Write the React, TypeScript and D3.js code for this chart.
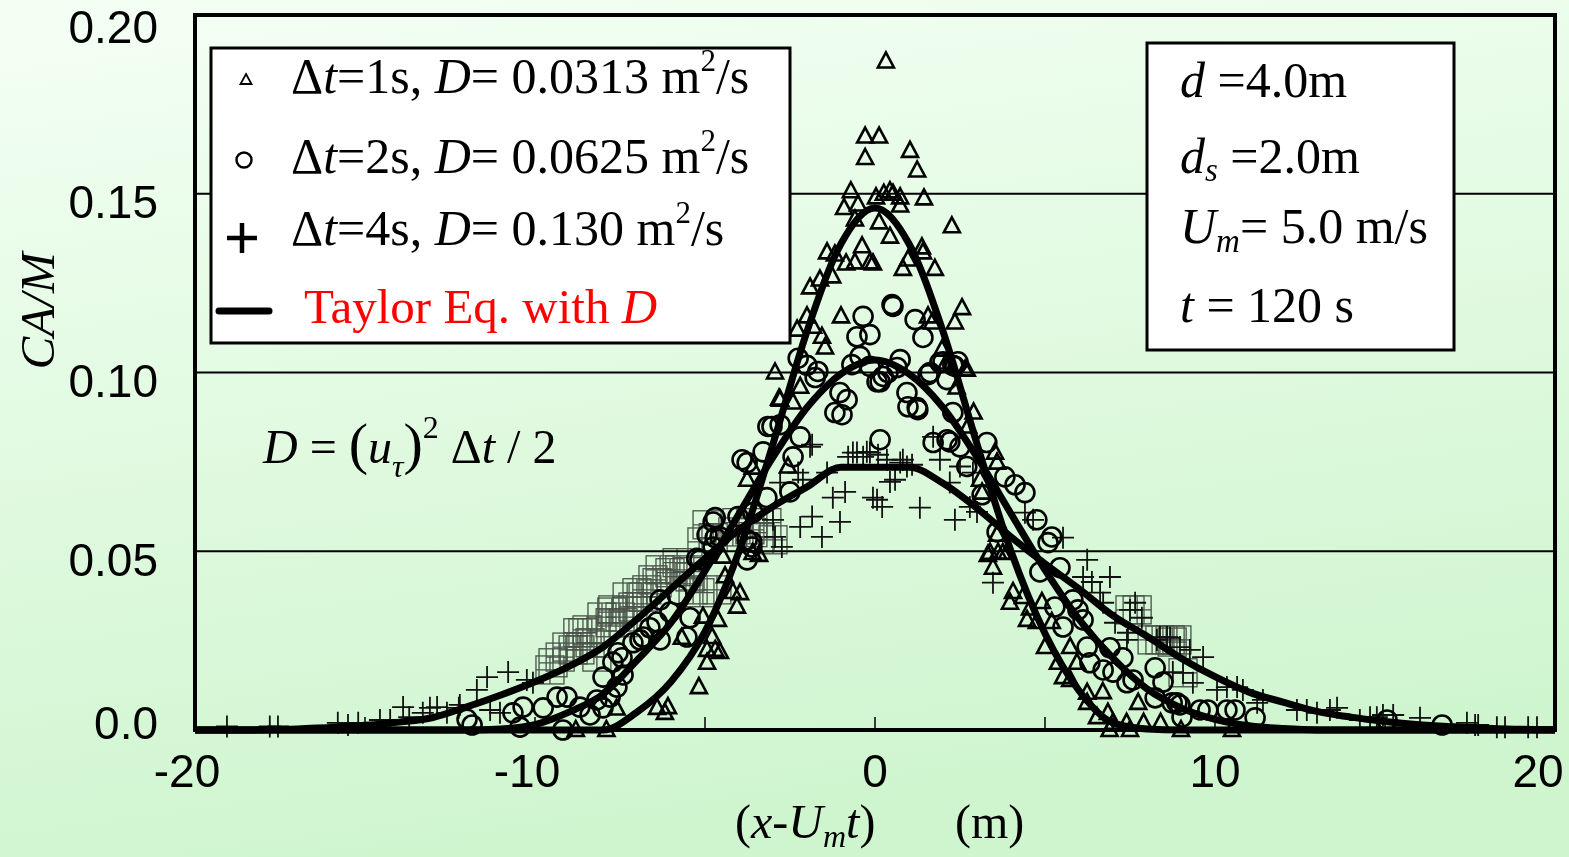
import * as d3 from 'd3'

// Taylor equation curves at 1 m steps
const taylorX = [-20, -19, -18, -17, -16, -15, -14, -13, -12, -11, -10, -9, -8, -7, -6, -5, -4, -3, -2, -1, 0,
  1, 2, 3, 4, 5, 6, 7, 8, 9, 10, 11, 12, 13, 14, 15, 16, 17, 18, 19, 20]
const taylor1s = [0, 0, 0, 0, 0, 0, 0, 0, 0, 0, 0, 0, 0, 0.005, 0.0135, 0.0275, 0.05, 0.08, 0.1115, 0.136, 0.146,
  0.136, 0.1115, 0.08, 0.05, 0.027, 0.011, 0.002, 0.0003, 0, 0, 0, 0, 0, 0, 0, 0, 0, 0, 0, 0]
const taylor2s = [0, 0, 0, 0, 0, 0, 0, 0, 0, 0.0003, 0.0015, 0.005, 0.01, 0.0195, 0.03, 0.0445, 0.0605, 0.0763, 0.0902, 0.0996, 0.1035,
  0.0996, 0.0902, 0.0763, 0.0605, 0.0448, 0.031, 0.0201, 0.0115, 0.0062, 0.003, 0.0012, 0.0004, 0, 0, 0, 0, 0, 0, 0, 0]
const taylor4s = [0, 0, 0.0001, 0.0003, 0.0007, 0.0013, 0.0022, 0.0035, 0.0065, 0.0098, 0.0135, 0.0178, 0.0232, 0.031, 0.0395, 0.048, 0.056, 0.0625, 0.068, 0.0735, 0.0735,
  0.0735, 0.069, 0.062, 0.054, 0.0465, 0.0395, 0.032, 0.0262, 0.0201, 0.0149, 0.0106, 0.0078, 0.0052, 0.0036, 0.0024, 0.0015, 0.0009, 0.0005, 0.0002, 0.0001]

// simulated points, dt = 1 s (triangles)
const points1s: [number, number][] = [
  [0.32, 0.187], [-0.29, 0.166], [0.12, 0.166], [-0.29, 0.16], [1.03, 0.162], [1.24, 0.1565], [-0.71, 0.1507], [0.03, 0.149],
  [0.26, 0.15], [0.44, 0.1507], [0.53, 0.15], [0.74, 0.149], [1.44, 0.1487], [-0.91, 0.146], [-0.5, 0.147], [0.74, 0.1467],
  [-0.59, 0.1428], [0.12, 0.142], [0.44, 0.138], [2.26, 0.1409], [-0.38, 0.1353], [-1.41, 0.1336], [-1.18, 0.133], [-0.85, 0.1305],
  [-0.59, 0.1308], [-0.15, 0.1308], [-0.06, 0.1305], [-1.26, 0.1269], [1.38, 0.135], [1.41, 0.1336], [0.97, 0.1316], [0.82, 0.129],
  [1.76, 0.129], [-1.91, 0.1238], [-1.62, 0.126], [-1.0, 0.1157], [-2.0, 0.1157], [-2.29, 0.112], [-1.82, 0.1128], [-1.56, 0.11],
  [-1.47, 0.107], [1.56, 0.1157], [1.68, 0.114], [2.56, 0.118], [2.35, 0.114], [1.97, 0.1064], [-2.94, 0.1], [2.65, 0.1008],
  [-2.2, 0.096], [-2.82, 0.0927], [-2.41, 0.0916], [-2.56, 0.0737], [-3.76, 0.07], [-3.6, 0.0734], [-2.79, 0.0924],
  [-4.47, 0.0485], [-3.41, 0.049], [-3.6, 0.0495], [-4.41, 0.043], [-4.18, 0.0386], [-3.97, 0.0383], [-4.06, 0.0345], [-5.06, 0.0317],
  [-4.62, 0.0308], [-5.68, 0.0258], [-4.79, 0.026], [-4.94, 0.0224], [-4.7, 0.0224], [-4.56, 0.0218], [-4.94, 0.0188], [-5.18, 0.012],
  [-6.41, 0.0062], [-6.09, 0.0064], [-6.18, 0.0048], [-7.6, 0.006],
  [2.1, 0.1028], [2.7, 0.1008], [2.4, 0.0958], [2.9, 0.0888], [2.74, 0.0849], [3.53, 0.0776], [3.59, 0.0748], [3.09, 0.07],
  [3.15, 0.0664], [3.59, 0.0546], [3.38, 0.0496], [3.62, 0.0496], [3.88, 0.0496], [3.32, 0.049], [3.76, 0.0495], [3.47, 0.0454],
  [4.06, 0.0386], [3.97, 0.0356], [4.35, 0.0372], [4.56, 0.034], [4.91, 0.0358], [4.47, 0.0308], [4.76, 0.0302], [5.2, 0.0302],
  [5.0, 0.0232], [5.74, 0.0232], [5.38, 0.0188], [5.94, 0.0188], [5.53, 0.0148], [5.74, 0.014], [6.24, 0.0104], [6.7, 0.0106],
  [6.24, 0.0076], [7.74, 0.0076], [6.53, 0.0036], [6.85, 0.0048], [7.0, 0.002], [7.4, 0.002], [7.9, 0.002], [8.4, 0.002],
  [-8.8, 0], [-7.9, 0], [6.9, 0], [7.5, 0], [9.0, 0], [10.5, 0],
]

// dt = 2 s (circles)
const points2s: [number, number][] = [
  [0.5, 0.119], [0.53, 0.1185], [-0.35, 0.1157], [-0.53, 0.11], [-0.15, 0.1106], [1.18, 0.1148], [1.41, 0.1098], [-2.26, 0.104],
  [-1.68, 0.1003], [-0.44, 0.1045], [-0.68, 0.1022], [0.74, 0.1036], [0.65, 0.1014], [2.0, 0.103], [2.29, 0.102],
  [-1.03, 0.0944], [-0.82, 0.0924], [-1.18, 0.0888], [-0.97, 0.0882], [-0.15, 0.1017], [0.15, 0.0974], [0.38, 0.1], [0.94, 0.0944],
  [1.24, 0.0902], [1.62, 0.1], [1.91, 0.1028], [2.29, 0.0888], [0.15, 0.0812], [1.71, 0.0804], [2.12, 0.0812], [-3.91, 0.0756],
  [-3.15, 0.0849], [-3.29, 0.0778], [-2.2, 0.082], [-2.0, 0.102], [-1.76, 0.0986], [-3.03, 0.0849], [-2.79, 0.0854], [-2.41, 0.0764],
  [-2.5, 0.0666], [-3.18, 0.065], [-4.7, 0.0594], [-4.03, 0.0597], [-3.59, 0.0608], [-4.94, 0.0546], [-4.7, 0.0538], [-3.76, 0.0532],
  [-3.62, 0.0512], [0.24, 0.0989], [0.06, 0.0974], [0.97, 0.0904], [1.26, 0.0896], [1.56, 0.0994], [2.12, 0.098], [2.35, 0.1017],
  [2.44, 0.103], [2.2, 0.0806], [2.5, 0.0792], [2.7, 0.0737], [3.29, 0.0804], [3.82, 0.0708], [4.12, 0.0686], [4.41, 0.0664],
  [3.15, 0.0658], [4.76, 0.0588], [5.2, 0.054], [5.09, 0.0524], [3.59, 0.0554], [4.85, 0.0442], [5.44, 0.0454], [5.29, 0.0344],
  [5.82, 0.0364], [5.97, 0.0336], [5.53, 0.0288], [6.12, 0.0308], [6.24, 0.0232], [6.91, 0.023], [7.29, 0.0202], [6.32, 0.0188],
  [6.71, 0.0168], [7.0, 0.0162], [7.41, 0.0132], [7.59, 0.014], [8.24, 0.0174], [8.47, 0.0134], [8.24, 0.009], [8.74, 0.0076],
  [8.97, 0.007], [9.56, 0.0056], [8.88, 0.0076], [9.03, 0.0036], [9.79, 0.0056], [10.35, 0.0056], [10.59, 0.0056], [11.18, 0.0034],
  [15.06, 0.0028], [16.68, 0.0014],
  [-5.24, 0.048], [-4.76, 0.0512], [-5.44, 0.0314], [-5.53, 0.026], [-5.82, 0.0378], [-6.32, 0.0364], [-6.03, 0.033], [-6.62, 0.0286],
  [-6.82, 0.026], [-6.32, 0.0252], [-6.41, 0.0302], [-7.56, 0.0216], [-7.44, 0.0202], [-7.71, 0.019], [-7.12, 0.0244], [-6.91, 0.0252],
  [-8.0, 0.0148], [-7.41, 0.0154], [-7.59, 0.012], [-7.79, 0.0092], [-8.18, 0.0084], [-8.68, 0.0064], [-9.06, 0.0092], [-8.38, 0.0042],
  [-8.0, 0.0062], [-3.76, 0.0748], [-4.76, 0.0582], [-5.15, 0.0476], [-4.56, 0.054], [-3.76, 0.0476], [-3.62, 0.0526],
  [-9.35, 0.0092], [-9.76, 0.0062], [-10.35, 0.0064], [-10.65, 0.0048], [-11.85, 0.0014], [-10.44, 0.0008], [-9.18, 0], [-12.0, 0.003],
]

// dt = 4 s (plus signs)
const points4s: [number, number][] = [
  [-0.65, 0.0776], [-0.35, 0.0764], [-0.15, 0.0776], [-1.85, 0.0798], [0.35, 0.0756], [0.74, 0.0748], [0.94, 0.0737], [1.71, 0.082],
  [1.91, 0.0756], [2.5, 0.0737], [-1.91, 0.0792], [-0.53, 0.0776], [-0.24, 0.0778], [-0.79, 0.0764], [-2.26, 0.072], [-2.12, 0.07],
  [-1.41, 0.072], [-2.79, 0.0692], [-0.88, 0.0666], [-1.24, 0.065], [-0.06, 0.065], [-1.85, 0.0597], [-2.2, 0.0568], [-1.03, 0.0582],
  [-1.56, 0.054], [-3.0, 0.0588], [-2.94, 0.054], [-2.74, 0.0512], [0.09, 0.077], [0.82, 0.0756], [1.09, 0.0742], [0.59, 0.07],
  [0.44, 0.0694], [0.06, 0.0644], [0.21, 0.0624], [1.32, 0.0622], [2.35, 0.0588], [2.2, 0.0692], [2.88, 0.072], [2.79, 0.0624],
  [3.0, 0.061], [4.41, 0.0608], [4.65, 0.0588], [5.53, 0.0538], [6.24, 0.0476], [3.47, 0.0412], [6.91, 0.0428], [6.12, 0.0428],
  [6.38, 0.0414], [6.62, 0.0384], [6.71, 0.0356], [7.65, 0.0356], [7.5, 0.0336], [7.85, 0.0314], [7.06, 0.03], [7.44, 0.0272],
  [7.41, 0.0252], [8.29, 0.0252], [8.59, 0.026], [8.97, 0.0232], [9.26, 0.0224], [9.65, 0.0204], [9.35, 0.0132], [8.76, 0.0162],
  [8.38, 0.026], [8.68, 0.0258], [9.06, 0.016], [10.06, 0.0112], [10.35, 0.012], [10.65, 0.012], [10.82, 0.0112], [11.24, 0.0076],
  [11.41, 0.0084], [12.41, 0.0056], [12.7, 0.0056], [13.0, 0.0048], [13.38, 0.0056], [13.59, 0.0062], [14.26, 0.0028], [14.56, 0.0036],
  [14.76, 0.0036], [14.94, 0.0042], [15.24, 0.0042], [16.03, 0.0034], [17.41, 0.002], [17.65, 0.0014], [17.74, 0.0014], [18.29, 0.0008],
  [18.53, 0.0008], [19.21, 0.0008], [19.47, 0.0008],
  [-11.41, 0.0148], [-10.79, 0.0162], [-11.71, 0.0112], [-10.24, 0.014], [-10.06, 0.0132], [-13.88, 0.0064], [-13.09, 0.0062],
  [-12.88, 0.0064], [-12.21, 0.007], [-12.59, 0.0048], [-11.32, 0.0056], [-11.03, 0.0048], [-14.56, 0.0028], [-14.26, 0.0028],
  [-19.06, 0.001], [-17.8, 0.001], [-17.56, 0.001], [-15.8, 0.002], [-15.5, 0.0014], [-15.2, 0.002], [-13.7, 0.0036], [-13.3, 0.0048],
  [-12.24, 0.0062],
]

// the faint boxed markers that crowd the tails
const boxPoints: [number, number][] = [
  [-4.94, 0.0574], [-4.76, 0.0538], [-5.09, 0.0526], [-4.18, 0.0554], [-3.59, 0.0552], [-3.18, 0.058], [-3.0, 0.0532], [-5.74, 0.0448],
  [-5.44, 0.0428], [-6.03, 0.044], [-6.41, 0.0412], [-6.71, 0.0392], [-6.82, 0.0372], [-7.71, 0.0336], [-7.5, 0.0316], [-7.79, 0.03],
  [-7.12, 0.0344], [-8.59, 0.0272], [-8.38, 0.0244], [-8.68, 0.0224], [-9.06, 0.0232], [-9.26, 0.0204], [-9.47, 0.0188], [-9.56, 0.0168],
  [-8.18, 0.0204], [-5.15, 0.0384], [-4.65, 0.0392], [-7.74, 0.033], [-8.03, 0.0316], [-7.41, 0.03], [-8.47, 0.028], [-8.74, 0.0272],
  [-8.88, 0.0224], [-6.32, 0.0448], [-6.53, 0.042], [-7.0, 0.0384], [-5.82, 0.0468], [-5.53, 0.0443], [-7.29, 0.0372], [-5.35, 0.0392],
  [-4.06, 0.058], [-3.68, 0.056], [-3.38, 0.0538], [7.5, 0.0336], [7.71, 0.0336], [8.15, 0.0252], [8.74, 0.0246], [8.88, 0.0252],
  [8.38, 0.0252], [8.68, 0.0252], [9.06, 0.016],
]

const xTicks = [-20, -10, 0, 10, 20]
const xMinorTicks = [-15, -10, -5, 0, 5, 10, 15]
const yTicks = [0, 0.05, 0.1, 0.15, 0.2]
const yTickLabels = ['0.0', '0.05', '0.10', '0.15', '0.20']
const yGrid = [0.05, 0.1, 0.15]

const W = 1569
const H = 857
const serif = '"Liberation Serif", "Times New Roman", serif'
const sans = '"Liberation Sans", Arial, sans-serif'

const TRI = 'M0,-9L8,6L-8,6Z'

export default function App() {
  const x = d3.scaleLinear().domain([-20, 20]).range([195, 1555])
  const y = d3.scaleLinear().domain([0, 0.2]).range([730, 15])

  const line = d3.line<number>()
    .x((_d, i) => x(taylorX[i]))
    .y(d => y(d))
    .curve(d3.curveMonotoneX)

  const plus = (s: number) => `M${-s},0H${s}M0,${-s}V${s}`

  return (
    <svg width={W} height={H} style={{ position: 'fixed', left: 0, top: 0, display: 'block' }}>
      <defs>
        <linearGradient id="bg" x1="0" y1="0" x2="0.25" y2="1">
          <stop offset="0%" stopColor="#f4fff4" />
          <stop offset="100%" stopColor="#cff5cf" />
        </linearGradient>
      </defs>
      <rect width={W} height={H} fill="url(#bg)" />

      {/* grid */}
      {yGrid.map(v => (
        <line key={v} x1={x(-20)} x2={x(20)} y1={y(v)} y2={y(v)} stroke="#000" strokeWidth={2} />
      ))}
      {xMinorTicks.map(v => (
        <line key={v} x1={x(v)} x2={x(v)} y1={y(0)} y2={y(0) - 13} stroke="#000" strokeWidth={1.5} />
      ))}

      {/* boxed markers */}
      <g fill="none" stroke="#1a1a1a" strokeWidth={1.3} opacity={0.75}>
        {boxPoints.map((p, i) => (
          <g key={i} transform={`translate(${x(p[0])},${y(p[1])})`}>
            <rect x={-14} y={-14} width={28} height={28} />
            <path d={plus(14)} />
          </g>
        ))}
      </g>

      {/* dt = 4 s */}
      <g fill="none" stroke="#111" strokeWidth={1.8}>
        {points4s.map((p, i) => (
          <path key={i} d={plus(11)} transform={`translate(${x(p[0])},${y(p[1])})`} />
        ))}
      </g>
      {/* dt = 2 s */}
      <g fill="none" stroke="#000" strokeWidth={2.6}>
        {points2s.map((p, i) => (
          <circle key={i} cx={x(p[0])} cy={y(p[1])} r={9.5} />
        ))}
      </g>
      {/* dt = 1 s */}
      <g fill="none" stroke="#000" strokeWidth={2.6} strokeLinejoin="miter">
        {points1s.map((p, i) => (
          <path key={i} d={TRI} transform={`translate(${x(p[0])},${y(p[1])})`} />
        ))}
      </g>

      {/* Taylor curves */}
      <g fill="none" stroke="#000" strokeWidth={7} strokeLinejoin="round">
        <path d={line(taylor1s) ?? ''} />
        <path d={line(taylor2s) ?? ''} />
        <path d={line(taylor4s) ?? ''} />
      </g>

      {/* frame */}
      <rect x={x(-20)} y={y(0.2)} width={x(20) - x(-20)} height={y(0) - y(0.2)} fill="none" stroke="#000" strokeWidth={4} />

      {/* y ticks */}
      {yTicks.map((v, i) => (
        <text key={v} x={158} y={Math.min(722, Math.max(26, y(v) + 8))} dy="0.36em" textAnchor="end"
          fontFamily={sans} fontSize={46} fill="#000">{yTickLabels[i]}</text>
      ))}
      {/* x ticks */}
      {xTicks.map(v => (
        <text key={v} x={Math.min(1538, Math.max(178, x(v) - (v < 0 ? 8 : 0)))} y={787} textAnchor="middle"
          fontFamily={sans} fontSize={46} fill="#000">{v}</text>
      ))}

      {/* axis titles */}
      <text transform="translate(54,311) rotate(-90)" textAnchor="middle" fontFamily={serif} fontStyle="italic" fontSize={49}>CA/M</text>
      <text x={735} y={838} fontFamily={serif} fontSize={48}>
        (<tspan fontStyle="italic">x</tspan>-<tspan fontStyle="italic">U</tspan>
        <tspan fontStyle="italic" fontSize={32} dy={9}>m</tspan>
        <tspan fontStyle="italic" dy={-9}>t</tspan>)
      </text>
      <text x={955} y={838} fontFamily={serif} fontSize={48}>(m)</text>

      {/* equation */}
      <text x={263} y={463} fontFamily={serif} fontSize={48}>
        <tspan fontStyle="italic">D</tspan>{' = '}<tspan fontSize={58}>(</tspan>
        <tspan fontStyle="italic">u</tspan>
        <tspan fontStyle="italic" fontSize={32} dy={14}>τ</tspan>
        <tspan fontSize={58} dy={-14}>)</tspan>
        <tspan fontSize={32} dy={-25}>2</tspan>
        <tspan dy={25}>{' Δ'}</tspan><tspan fontStyle="italic">t</tspan>{' / 2'}
      </text>

      {/* legend */}
      <g>
        <rect x={211} y={48} width={579} height={295} fill="#fff" stroke="#000" strokeWidth={3} />
        <path d="M0,-6L5.5,4L-5.5,4Z" transform="translate(246,80)" fill="none" stroke="#000" strokeWidth={1.8} />
        <circle cx={244} cy={160} r={7.5} fill="none" stroke="#000" strokeWidth={2.4} />
        <path d={plus(15)} transform="translate(242,238)" stroke="#000" strokeWidth={4.5} />
        <line x1={219} x2={269} y1={311} y2={311} stroke="#000" strokeWidth={7} strokeLinecap="round" />
        {[
          { by: 93, dt: '1', D: '0.0313' },
          { by: 173, dt: '2', D: '0.0625' },
          { by: 245, dt: '4', D: '0.130' },
        ].map(r => (
          <text key={r.dt} x={291} y={r.by} fontFamily={serif} fontSize={50}>
            Δ<tspan fontStyle="italic">t</tspan>{`=${r.dt}s, `}<tspan fontStyle="italic">D</tspan>{`= ${r.D} m`}
            <tspan fontSize={31} dy={-22}>2</tspan><tspan dy={22}>/s</tspan>
          </text>
        ))}
        <text x={304} y={323} fontFamily={serif} fontSize={49} fill="#ff0000">
          Taylor Eq. with <tspan fontStyle="italic">D</tspan>
        </text>
      </g>

      {/* parameters box */}
      <g fontFamily={serif} fontSize={50}>
        <rect x={1147} y={43} width={307} height={307} fill="#fff" stroke="#000" strokeWidth={3} />
        <text x={1180} y={97}><tspan fontStyle="italic">d</tspan>{' =4.0m'}</text>
        <text x={1180} y={173}>
          <tspan fontStyle="italic">d</tspan><tspan fontStyle="italic" fontSize={33} dy={8}>s</tspan>
          <tspan dy={-8}>{' =2.0m'}</tspan>
        </text>
        <text x={1180} y={243}>
          <tspan fontStyle="italic">U</tspan><tspan fontStyle="italic" fontSize={33} dy={9}>m</tspan>
          <tspan dy={-9}>{'= 5.0 m/s'}</tspan>
        </text>
        <text x={1180} y={322}><tspan fontStyle="italic">t</tspan>{' = 120 s'}</text>
      </g>
    </svg>
  )
}
